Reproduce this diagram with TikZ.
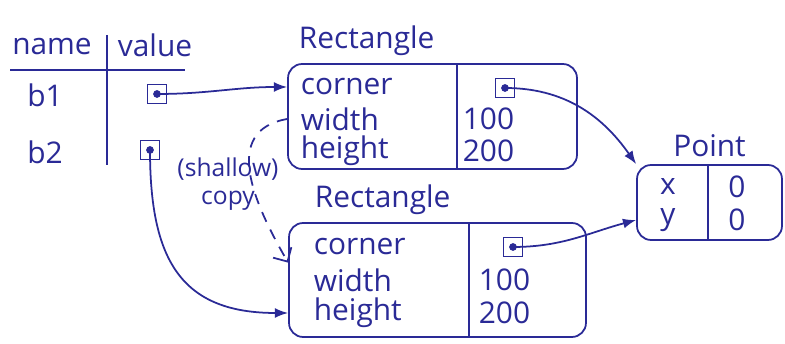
\documentclass[tikz,border=0pt]{standalone}
\usepackage{fontspec}
\setmainfont{Open Sans}
\usetikzlibrary{arrows.meta, positioning, calc}
\definecolor{ink}{RGB}{42,42,150}

\begin{document}
\begin{tikzpicture}[x=0.02cm, y=0.02cm, >=Latex, ink, line width=1pt,
    font=\fontsize{17}{19}\selectfont,
    obj/.style={draw, rounded corners=8pt, inner sep=0pt},
    fld/.style={anchor=west, inner sep=0pt},
    ptrbox/.style={draw, minimum size=0.38cm, inner sep=0pt},
    cpy/.style={->, >={Straight Barb[length=6pt]}, dash pattern=on 6pt off 5pt}
]
    \useasboundingbox (0,0) rectangle (785,344);

    % variables
    \node (hname) at (52,297) {name};
    \node (hvalue) at (155,299) {value};
    \draw (10,274) -- (185,274);
    \draw (107,309) -- (107,179);
    \node (b1) at (45,249) {b1};
    \node (b2) at (45,192) {b2};
    \node[ptrbox] (v1) at (157,250) {};
    \node[ptrbox] (v2) at (150,194) {};
    \fill (v1) circle (2.2pt);
    \fill (v2) circle (2.2pt);

    % first Rectangle
    \node[obj, minimum width=5.78cm, minimum height=2.1cm] (r1) at (432.5,227.5) {};
    \node[above right=0.02cm and 0.1cm of r1.north west] (t1) {Rectangle};
    \draw ($(r1.north west)+(170,0)$) -- ($(r1.south west)+(170,0)$);
    \node[fld] (c1) at (300,257) {corner};
    \node[fld] (w1) at (300,225) {width};
    \node[fld] (h1) at (300,193) {height};
    \node[ptrbox] (d1) at (505,256) {};
    \fill (d1) circle (2.2pt);
    \node[fld] (n1w) at (462,225) {100};
    \node[fld] (n1h) at (462,193) {200};

    % second Rectangle
    \node[obj, minimum width=5.94cm, minimum height=2.28cm] (r2) at (437.5,64) {};
    \node[above right=0.02cm and 0.4cm of r2.north west] (t2) {Rectangle};
    \draw ($(r2.north west)+(181,0)$) -- ($(r2.south west)+(181,0)$);
    \node[fld] (c2) at (313,97) {corner};
    \node[fld] (w2) at (313,64) {width};
    \node[fld] (h2) at (313,31) {height};
    \node[ptrbox] (d2) at (513,97) {};
    \fill (d2) circle (2.2pt);
    \node[fld] (n2w) at (478,64) {100};
    \node[fld] (n2h) at (478,31) {200};

    % Point
    \node[obj, minimum width=2.9cm, minimum height=1.5cm] (pt) at (709.5,141.5) {};
    \node[above=0.02cm of pt] (t3) {Point};
    \draw ($(pt.north west)+(72,0)$) -- ($(pt.south west)+(72,0)$);
    \node (px) at (668,157) {x};
    \node (py) at (668,124) {y};
    \node (pxv) at (737,157) {0};
    \node (pyv) at (737,124) {0};

    % references
    \draw[->] (v1.center) to[out=0, in=180] (r1.west |- c1);
    \draw[->] (v2.center) to[out=-90, in=180, looseness=1.3] (r2.west |- h2);
    \draw[->] (d1.center) to[out=0, in=125] (pt.north west);
    \draw[->] (d2.center) to[out=0, in=195] (pt.west |- py);
    \draw[cpy] (r1.west |- w1) to[out=190, in=120, looseness=1.2]
        ($(r2.north west)!0.35!(r2.south west)$);
    \node[align=center, inner sep=0pt, font=\fontsize{14}{16}\selectfont] (sc) at (228,160) {(shallow)\\copy};
\end{tikzpicture}
\end{document}
